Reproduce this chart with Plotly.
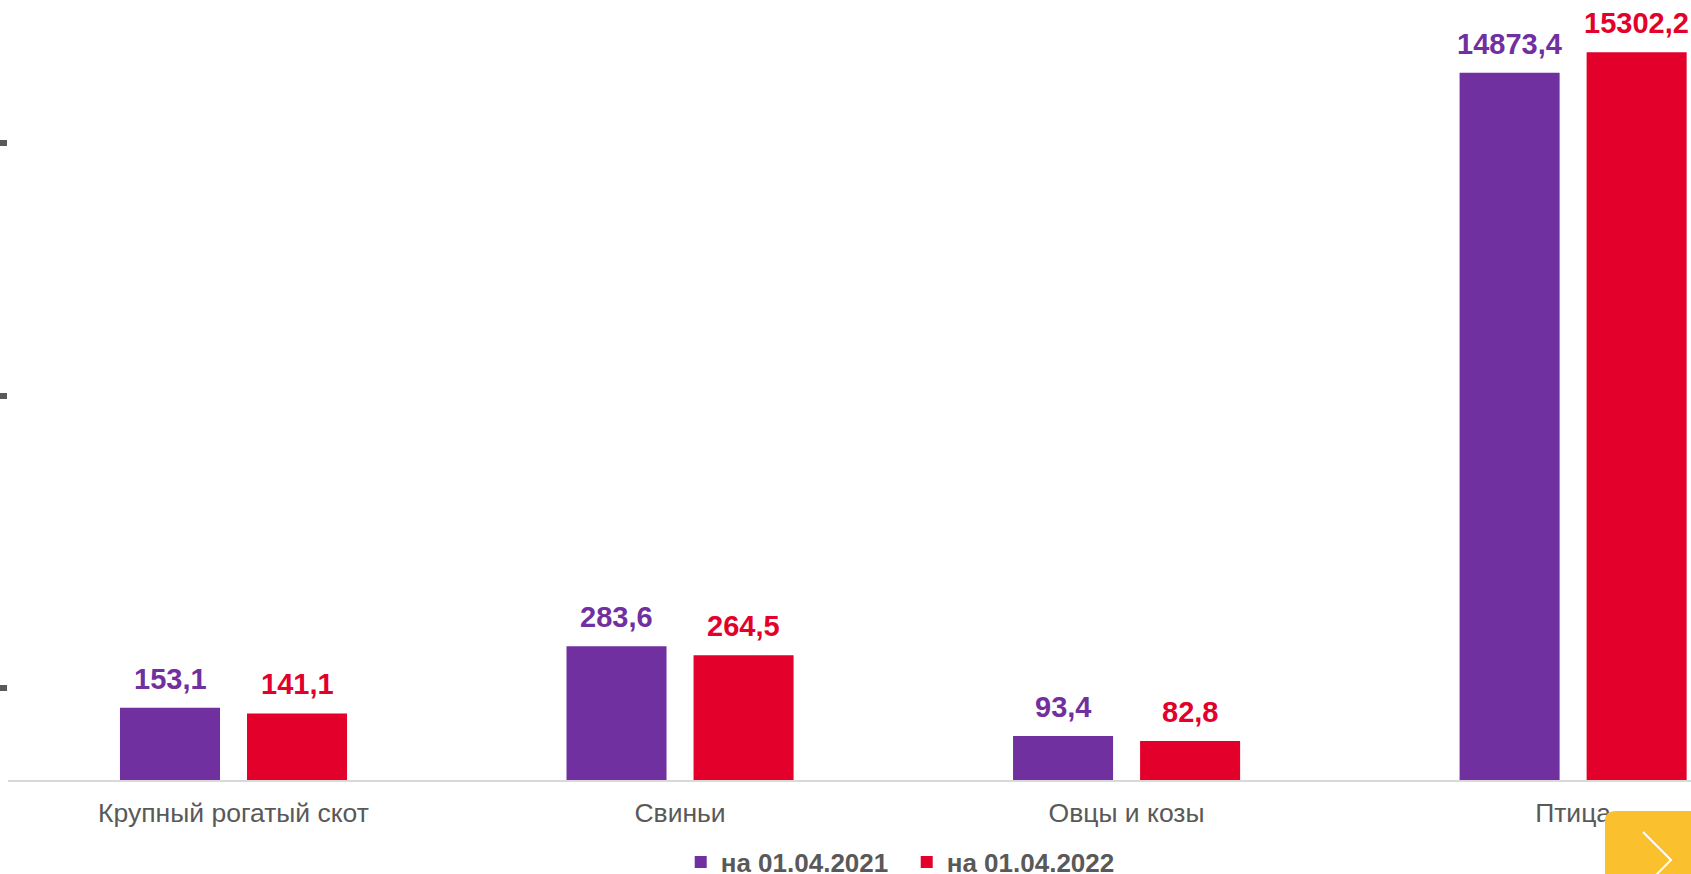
import plotly.graph_objects as go

categories = ["Крупный рогатый скот", "Свиньи", "Овцы и козы", "Птица"]
series_names = ["на 01.04.2021", "на 01.04.2022"]
vals_2021 = [153.1, 283.6, 93.4, 14873.4]
vals_2022 = [141.1, 264.5, 82.8, 15302.2]

colors = ["#7130A0", "#E3002B"]
FONT = "Arial, 'Liberation Sans', sans-serif"

W, H = 1691, 874
ML, MR, MT, MB = 8, 0, 0, 94
plot_h = H - MT - MB

# broken value axis: lower part and upper part
lower_px = 240
lower_range = [0, 508.5]
upper_range = [5056, 16401]
split = lower_px / plot_h

fig = go.Figure()
for i, (name, vals) in enumerate(zip(series_names, [vals_2021, vals_2022])):
    for ax in ["y", "y2"]:
        fig.add_trace(go.Bar(
            x=categories, y=vals, name=name, yaxis=ax, xaxis="x",
            marker=dict(color=colors[i], line=dict(width=0)),
            showlegend=(ax == "y"), legendgroup=name,
            offsetgroup=str(i), hoverinfo="skip",
        ))

annotations = []
for i, vals in enumerate([vals_2021, vals_2022]):
    for c, v in zip(categories, vals):
        ref = "y" if v < lower_range[1] else "y2"
        annotations.append(dict(
            x=c, y=v, xref="x", yref=ref, text=f"{v:.1f}".replace(".", ","),
            showarrow=False, yanchor="bottom", xanchor="center",
            xshift=-63.5 if i == 0 else 63.5, yshift=11,
            font=dict(family=FONT, size=29, color=colors[i], weight="bold"),
        ))

fig.update_layout(
    width=W, height=H,
    margin=dict(l=ML, r=MR, t=MT, b=MB, autoexpand=False),
    paper_bgcolor="white", plot_bgcolor="white",
    barmode="group", bargap=0.431, bargroupgap=0.2126,
    font=dict(family=FONT, color="#595959"),
    xaxis=dict(
        type="category", range=[-0.505, 3.264], anchor="y",
        showline=True, linecolor="#D9D9D9", linewidth=2,
        ticks="outside", ticklen=8, tickcolor="rgba(0,0,0,0)",
        tickfont=dict(family=FONT, size=26.5, color="#595959"),
        showgrid=False, zeroline=False,
    ),
    yaxis=dict(
        domain=[0, split], range=lower_range, showgrid=False, zeroline=False,
        showticklabels=False, ticks="outside", ticklen=8, tickwidth=6,
        tickcolor="#595959", tickvals=[195],
    ),
    yaxis2=dict(
        domain=[split, 1], range=upper_range, anchor="x", showgrid=False,
        zeroline=False, showticklabels=False, ticks="outside", ticklen=8,
        tickwidth=6, tickcolor="#595959", tickvals=[8082, 13397],
    ),
    legend=dict(
        orientation="h", x=0.534, xanchor="center", y=-82 / plot_h, yanchor="middle",
        font=dict(family=FONT, size=26, color="#595959", weight="bold"),
        traceorder="normal", itemclick=False, itemdoubleclick=False,
        entrywidth=181, entrywidthmode="pixels",
    ),
    annotations=annotations,
    showlegend=True,
)

# navigation button overlay (bottom-right corner)
px = lambda xp: (xp - ML) / (W - ML - MR)
py = lambda yp: (plot_h - yp) / plot_h
x0, x1, y0, y1, r = 1605, 1691, 811, 874, 10
path = (f"M {px(x0)},{py(y1)} L {px(x0)},{py(y0 + r)} Q {px(x0)},{py(y0)} {px(x0 + r)},{py(y0)} "
        f"L {px(x1)},{py(y0)} L {px(x1)},{py(y1)} Z")
fig.add_shape(type="path", path=path, xref="paper", yref="paper",
              fillcolor="#FBC02D", line=dict(width=0), layer="above")
chev = f"M {px(1643)},{py(832)} L {px(1671)},{py(860)} L {px(1643)},{py(888)}"
fig.add_shape(type="path", path=chev, xref="paper", yref="paper",
              line=dict(color="white", width=2), layer="above")

fig.write_html(
    "out.html",
    config={"displayModeBar": False},
    post_script="document.body.style.margin='0';document.body.style.overflow='hidden';",
)
